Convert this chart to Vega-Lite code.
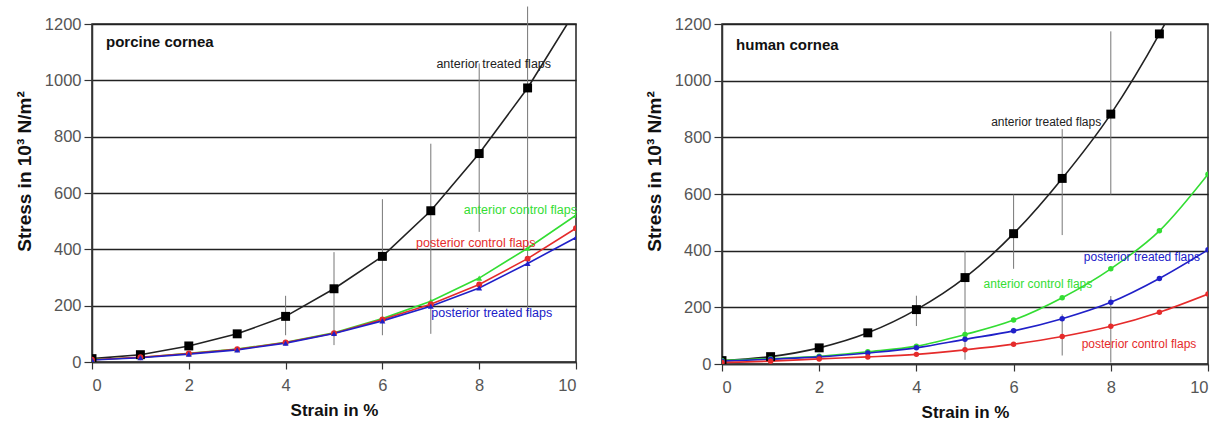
{
  "$schema": "https://vega.github.io/schema/vega-lite/v6.json",
  "padding": {"left": 14, "top": 5, "right": 5, "bottom": 5},
  "background": "white",
  "config": {
    "font": "Liberation Sans",
    "view": {"stroke": "#222", "strokeWidth": 1.5},
    "axis": {
      "domainColor": "#333", "domainWidth": 1.5,
      "tickColor": "#333", "tickWidth": 1.2,
      "labelColor": "#555", "labelFontSize": 16.5, "labelFont": "Liberation Sans",
      "titleColor": "#111", "titleFontWeight": "bold", "titleFont": "Liberation Sans",
      "gridColor": "#222", "gridWidth": 1.5, "gridOpacity": 1
    },
    "axisX": {"tickSize": 7, "labelPadding": 8, "titlePadding": 9, "titleFontSize": 17},
    "axisY": {"tickSize": 8, "labelPadding": 3, "titlePadding": 10, "titleFontSize": 19, "titleY": 147, "format": "d"}
  },
  "datasets": {
    "porcine": [
      {"x": 0, "y": 12, "s": "anterior treated flaps"}, {"x": 1, "y": 26, "s": "anterior treated flaps"}, {"x": 2, "y": 57, "s": "anterior treated flaps"}, {"x": 3, "y": 100, "s": "anterior treated flaps"}, {"x": 4, "y": 162, "s": "anterior treated flaps"}, {"x": 5, "y": 260, "s": "anterior treated flaps"}, {"x": 6, "y": 375, "s": "anterior treated flaps"}, {"x": 7, "y": 537, "s": "anterior treated flaps"}, {"x": 8, "y": 740, "s": "anterior treated flaps"}, {"x": 9, "y": 973, "s": "anterior treated flaps"}, {"x": 10, "y": 1250, "s": "anterior treated flaps"},
      {"x": 0, "y": 9, "s": "anterior control flaps"}, {"x": 1, "y": 16, "s": "anterior control flaps"}, {"x": 2, "y": 31, "s": "anterior control flaps"}, {"x": 3, "y": 46, "s": "anterior control flaps"}, {"x": 4, "y": 70, "s": "anterior control flaps"}, {"x": 5, "y": 104, "s": "anterior control flaps"}, {"x": 6, "y": 154, "s": "anterior control flaps"}, {"x": 7, "y": 216, "s": "anterior control flaps"}, {"x": 8, "y": 298, "s": "anterior control flaps"}, {"x": 9, "y": 404, "s": "anterior control flaps"}, {"x": 10, "y": 521, "s": "anterior control flaps"},
      {"x": 0, "y": 8, "s": "posterior control flaps"}, {"x": 1, "y": 17, "s": "posterior control flaps"}, {"x": 2, "y": 30, "s": "posterior control flaps"}, {"x": 3, "y": 45, "s": "posterior control flaps"}, {"x": 4, "y": 69, "s": "posterior control flaps"}, {"x": 5, "y": 102, "s": "posterior control flaps"}, {"x": 6, "y": 151, "s": "posterior control flaps"}, {"x": 7, "y": 205, "s": "posterior control flaps"}, {"x": 8, "y": 275, "s": "posterior control flaps"}, {"x": 9, "y": 367, "s": "posterior control flaps"}, {"x": 10, "y": 475, "s": "posterior control flaps"},
      {"x": 0, "y": 7, "s": "posterior treated flaps"}, {"x": 1, "y": 15, "s": "posterior treated flaps"}, {"x": 2, "y": 28, "s": "posterior treated flaps"}, {"x": 3, "y": 43, "s": "posterior treated flaps"}, {"x": 4, "y": 67, "s": "posterior treated flaps"}, {"x": 5, "y": 101, "s": "posterior treated flaps"}, {"x": 6, "y": 146, "s": "posterior treated flaps"}, {"x": 7, "y": 198, "s": "posterior treated flaps"}, {"x": 8, "y": 263, "s": "posterior treated flaps"}, {"x": 9, "y": 350, "s": "posterior treated flaps"}, {"x": 10, "y": 442, "s": "posterior treated flaps"}
    ],
    "human": [
      {"x": 0, "y": 12, "s": "anterior treated flaps"}, {"x": 1, "y": 26, "s": "anterior treated flaps"}, {"x": 2, "y": 57, "s": "anterior treated flaps"}, {"x": 3, "y": 110, "s": "anterior treated flaps"}, {"x": 4, "y": 192, "s": "anterior treated flaps"}, {"x": 5, "y": 305, "s": "anterior treated flaps"}, {"x": 6, "y": 460, "s": "anterior treated flaps"}, {"x": 7, "y": 655, "s": "anterior treated flaps"}, {"x": 8, "y": 882, "s": "anterior treated flaps"}, {"x": 9, "y": 1165, "s": "anterior treated flaps"}, {"x": 10, "y": 1500, "s": "anterior treated flaps"},
      {"x": 0, "y": 12, "s": "anterior control flaps"}, {"x": 1, "y": 19, "s": "anterior control flaps"}, {"x": 2, "y": 27, "s": "anterior control flaps"}, {"x": 3, "y": 43, "s": "anterior control flaps"}, {"x": 4, "y": 63, "s": "anterior control flaps"}, {"x": 5, "y": 104, "s": "anterior control flaps"}, {"x": 6, "y": 155, "s": "anterior control flaps"}, {"x": 7, "y": 234, "s": "anterior control flaps"}, {"x": 8, "y": 336, "s": "anterior control flaps"}, {"x": 9, "y": 470, "s": "anterior control flaps"}, {"x": 10, "y": 670, "s": "anterior control flaps"},
      {"x": 0, "y": 10, "s": "posterior treated flaps"}, {"x": 1, "y": 17, "s": "posterior treated flaps"}, {"x": 2, "y": 25, "s": "posterior treated flaps"}, {"x": 3, "y": 39, "s": "posterior treated flaps"}, {"x": 4, "y": 57, "s": "posterior treated flaps"}, {"x": 5, "y": 87, "s": "posterior treated flaps"}, {"x": 6, "y": 117, "s": "posterior treated flaps"}, {"x": 7, "y": 160, "s": "posterior treated flaps"}, {"x": 8, "y": 218, "s": "posterior treated flaps"}, {"x": 9, "y": 302, "s": "posterior treated flaps"}, {"x": 10, "y": 403, "s": "posterior treated flaps"},
      {"x": 0, "y": 5, "s": "posterior control flaps"}, {"x": 1, "y": 10, "s": "posterior control flaps"}, {"x": 2, "y": 18, "s": "posterior control flaps"}, {"x": 3, "y": 25, "s": "posterior control flaps"}, {"x": 4, "y": 34, "s": "posterior control flaps"}, {"x": 5, "y": 50, "s": "posterior control flaps"}, {"x": 6, "y": 70, "s": "posterior control flaps"}, {"x": 7, "y": 97, "s": "posterior control flaps"}, {"x": 8, "y": 133, "s": "posterior control flaps"}, {"x": 9, "y": 183, "s": "posterior control flaps"}, {"x": 10, "y": 247, "s": "posterior control flaps"}
    ],
    "porcineErr": [
      {"x": 4, "lo": 95, "hi": 235}, {"x": 5, "lo": 60, "hi": 390}, {"x": 6, "lo": 95, "hi": 578},
      {"x": 7, "lo": 100, "hi": 775}, {"x": 8, "lo": 462, "hi": 1060}, {"x": 9, "lo": 165, "hi": 1262}
    ],
    "humanErr": [
      {"x": 4, "lo": 134, "hi": 241}, {"x": 5, "lo": 15, "hi": 399}, {"x": 6, "lo": 336, "hi": 598},
      {"x": 7, "lo": 455, "hi": 829}, {"x": 7, "lo": 30, "hi": 175}, {"x": 8, "lo": 598, "hi": 1174}, {"x": 8, "lo": 5, "hi": 240}
    ],
    "porcineLabels": [
      {"x": 0.29, "y": 1136, "t": "porcine cornea", "s": "title"},
      {"x": 8.3, "y": 1058, "t": "anterior treated flaps", "s": "anterior treated flaps"},
      {"x": 8.85, "y": 541, "t": "anterior control flaps", "s": "anterior control flaps"},
      {"x": 7.93, "y": 424, "t": "posterior control flaps", "s": "posterior control flaps"},
      {"x": 8.26, "y": 175, "t": "posterior treated flaps", "s": "posterior treated flaps"}
    ],
    "humanLabels": [
      {"x": 0.29, "y": 1126, "t": "human cornea", "s": "title"},
      {"x": 6.67, "y": 854, "t": "anterior treated flaps", "s": "anterior treated flaps"},
      {"x": 8.64, "y": 378, "t": "posterior treated flaps", "s": "posterior treated flaps"},
      {"x": 6.5, "y": 282, "t": "anterior control flaps", "s": "anterior control flaps"},
      {"x": 8.58, "y": 70, "t": "posterior control flaps", "s": "posterior control flaps"}
    ]
  },
  "spacing": 66,
  "resolve": {"scale": {"shape": "independent"}},
  "hconcat": [
    {
      "width": 484, "height": 338,
      "encoding": {
        "x": {"field": "x", "type": "quantitative", "scale": {"domain": [0, 10], "nice": false},
              "axis": {"title": "Strain in %", "values": [0, 2, 4, 6, 8, 10], "grid": false}},
        "y": {"field": "y", "type": "quantitative", "scale": {"domain": [0, 1200], "nice": false},
              "axis": {"title": "Stress in 10³ N/m²", "values": [0, 200, 400, 600, 800, 1000, 1200], "grid": true}}
      },
      "layer": [
        {
          "data": {"name": "porcineErr"},
          "mark": {"type": "rule", "color": "#777", "strokeWidth": 1},
          "encoding": {"y": {"field": "lo", "type": "quantitative"}, "y2": {"field": "hi"}}
        },
        {
          "data": {"name": "porcine"},
          "mark": {"type": "line", "strokeWidth": 1.6, "clip": true, "interpolate": "linear"},
          "encoding": {
            "color": {"field": "s", "type": "nominal", "legend": null,
              "scale": {"domain": ["anterior treated flaps", "anterior control flaps", "posterior control flaps", "posterior treated flaps"], "range": ["#222222", "#33dd33", "#e52b2b", "#2020c8"]}}
          }
        },
        {
          "data": {"name": "porcine"},
          "transform": [{"filter": "datum.s === 'anterior treated flaps'"}],
          "mark": {"type": "point", "shape": "square", "filled": true, "size": 80, "color": "#000", "opacity": 1, "clip": true}
        },
        {
          "data": {"name": "porcine"},
          "transform": [{"filter": "datum.s !== 'anterior treated flaps'"}],
          "mark": {"type": "point", "filled": true, "size": 35, "opacity": 1, "clip": true},
          "encoding": {
            "color": {"field": "s", "type": "nominal", "legend": null},
            "shape": {"field": "s", "type": "nominal", "legend": null,
              "scale": {"domain": ["anterior control flaps", "posterior control flaps", "posterior treated flaps"], "range": ["triangle-up", "circle", "triangle-up"]}}
          }
        },
        {
          "data": {"name": "porcineLabels"},
          "transform": [{"filter": "datum.s === 'title'"}],
          "mark": {"type": "text", "align": "left", "baseline": "middle", "fontSize": 15, "fontWeight": "bold", "color": "#111"},
          "encoding": {"text": {"field": "t"}}
        },
        {
          "data": {"name": "porcineLabels"},
          "transform": [{"filter": "datum.s !== 'title'"}],
          "mark": {"type": "text", "align": "center", "baseline": "middle", "fontSize": 12.5, "font": "Liberation Sans"},
          "encoding": {"text": {"field": "t"}, "color": {"field": "s", "type": "nominal", "legend": null}}
        }
      ]
    },
    {
      "width": 486, "height": 340,
      "encoding": {
        "x": {"field": "x", "type": "quantitative", "scale": {"domain": [0, 10], "nice": false},
              "axis": {"title": "Strain in %", "values": [0, 2, 4, 6, 8, 10], "grid": false}},
        "y": {"field": "y", "type": "quantitative", "scale": {"domain": [0, 1200], "nice": false},
              "axis": {"title": "Stress in 10³ N/m²", "values": [0, 200, 400, 600, 800, 1000, 1200], "grid": true}}
      },
      "layer": [
        {
          "data": {"name": "humanErr"},
          "mark": {"type": "rule", "color": "#777", "strokeWidth": 1},
          "encoding": {"y": {"field": "lo", "type": "quantitative"}, "y2": {"field": "hi"}}
        },
        {
          "data": {"name": "human"},
          "mark": {"type": "line", "strokeWidth": 1.6, "clip": true, "interpolate": "monotone"},
          "encoding": {
            "color": {"field": "s", "type": "nominal", "legend": null,
              "scale": {"domain": ["anterior treated flaps", "anterior control flaps", "posterior control flaps", "posterior treated flaps"], "range": ["#222222", "#33dd33", "#e52b2b", "#2020c8"]}}
          }
        },
        {
          "data": {"name": "human"},
          "transform": [{"filter": "datum.s === 'anterior treated flaps'"}],
          "mark": {"type": "point", "shape": "square", "filled": true, "size": 80, "color": "#000", "opacity": 1, "clip": true}
        },
        {
          "data": {"name": "human"},
          "transform": [{"filter": "datum.s !== 'anterior treated flaps'"}],
          "mark": {"type": "point", "shape": "circle", "filled": true, "size": 30, "opacity": 1, "clip": true},
          "encoding": {"color": {"field": "s", "type": "nominal", "legend": null}}
        },
        {
          "data": {"name": "humanLabels"},
          "transform": [{"filter": "datum.s === 'title'"}],
          "mark": {"type": "text", "align": "left", "baseline": "middle", "fontSize": 15, "fontWeight": "bold", "color": "#111"},
          "encoding": {"text": {"field": "t"}}
        },
        {
          "data": {"name": "humanLabels"},
          "transform": [{"filter": "datum.s !== 'title'"}],
          "mark": {"type": "text", "align": "center", "baseline": "middle", "fontSize": 12, "font": "Liberation Sans"},
          "encoding": {"text": {"field": "t"}, "color": {"field": "s", "type": "nominal", "legend": null}}
        }
      ]
    }
  ]
}
